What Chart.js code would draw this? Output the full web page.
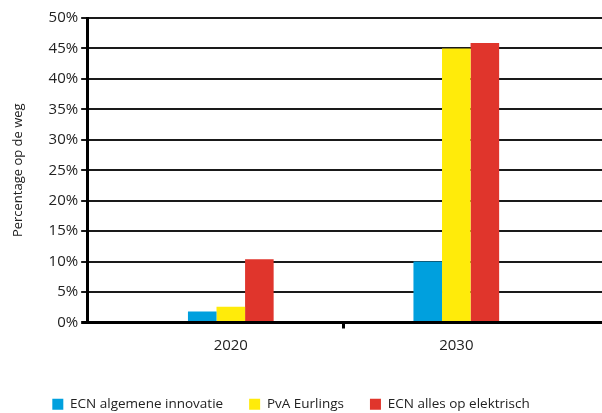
<!DOCTYPE html>
<html><head><meta charset="utf-8">
<script src="https://cdn.jsdelivr.net/npm/chart.js@4/dist/chart.umd.min.js"></script>
<style>html,body{margin:0;padding:0;background:#fff}#wrap{width:602px;height:413px}</style>
</head><body><div id="wrap"><canvas id="c"></canvas></div>
<script>
const categories = ['2020', '2030'];
const ecnInnovatie = [1.8, 10.0];
const pvaEurlings = [2.6, 45.0];
const ecnElektrisch = [10.4, 45.9];
const seriesNames = ['ECN algemene innovatie', 'PvA Eurlings', 'ECN alles op elektrisch'];
const yTitle = 'Percentage op de weg';

const FONT = "'Open Sans', 'Noto Sans', sans-serif";
const layoutTweak = {
  id: 'layoutTweak',
  afterLayout(chart) {
    if (chart.legend) { chart.legend.left -= 15; chart.legend.right -= 15; }
    const x = chart.scales.x, w = chart.chartArea.right - chart.chartArea.left;
    x.left = chart.chartArea.left + w * 0.06;
    x.right = chart.chartArea.right - w * 0.064;
    x.configure();
  }
};
new Chart(document.getElementById('c'), {
  type: 'bar',
  data: {
    labels: categories,
    datasets: [
      {label: seriesNames[0], data: ecnInnovatie, backgroundColor: '#00A0DE'},
      {label: seriesNames[1], data: pvaEurlings, backgroundColor: '#FFEB0A'},
      {label: seriesNames[2], data: ecnElektrisch, backgroundColor: '#E0352C'}
    ]
  },
  plugins: [layoutTweak],
  options: {
    responsive: true, maintainAspectRatio: false, animation: false,
    datasets: {bar: {categoryPercentage: 0.38, barPercentage: 1.0}},
    layout: {padding: {left: 10, right: 0, top: 18, bottom: -8}},
    plugins: {
      tooltip: {enabled: false},
      legend: {
        position: 'bottom',
        labels: {boxWidth: 11, boxHeight: 11, padding: 26, color: '#222', font: {family: FONT, size: 13.5}}
      }
    },
    scales: {
      x: {
        grid: {display: true, drawOnChartArea: false, drawTicks: true, tickLength: 6,
               color: c => c.index === 1 ? '#000' : 'rgba(0,0,0,0)', lineWidth: 3},
        border: {display: false},
        ticks: {color: '#222', font: {family: FONT, size: 15}, padding: 8},
        afterFit(scale) { scale.height += 9; }
      },
      y: {
        min: 0, max: 50,
        ticks: {stepSize: 5, color: '#222', font: {family: FONT, size: 15}, padding: 3, callback: v => v + '%'},
        grid: {color: c => c.tick && c.tick.value === 0 ? '#000' : '#1a1a1a',
               lineWidth: c => c.tick && c.tick.value === 0 ? 3 : 2, tickLength: 6},
        border: {display: true, color: '#000', width: 3},
        title: {display: true, text: yTitle, color: '#222', font: {family: FONT, size: 13}, padding: {top: 0, bottom: 20}}
      }
    }
  }
});
</script></body></html>
